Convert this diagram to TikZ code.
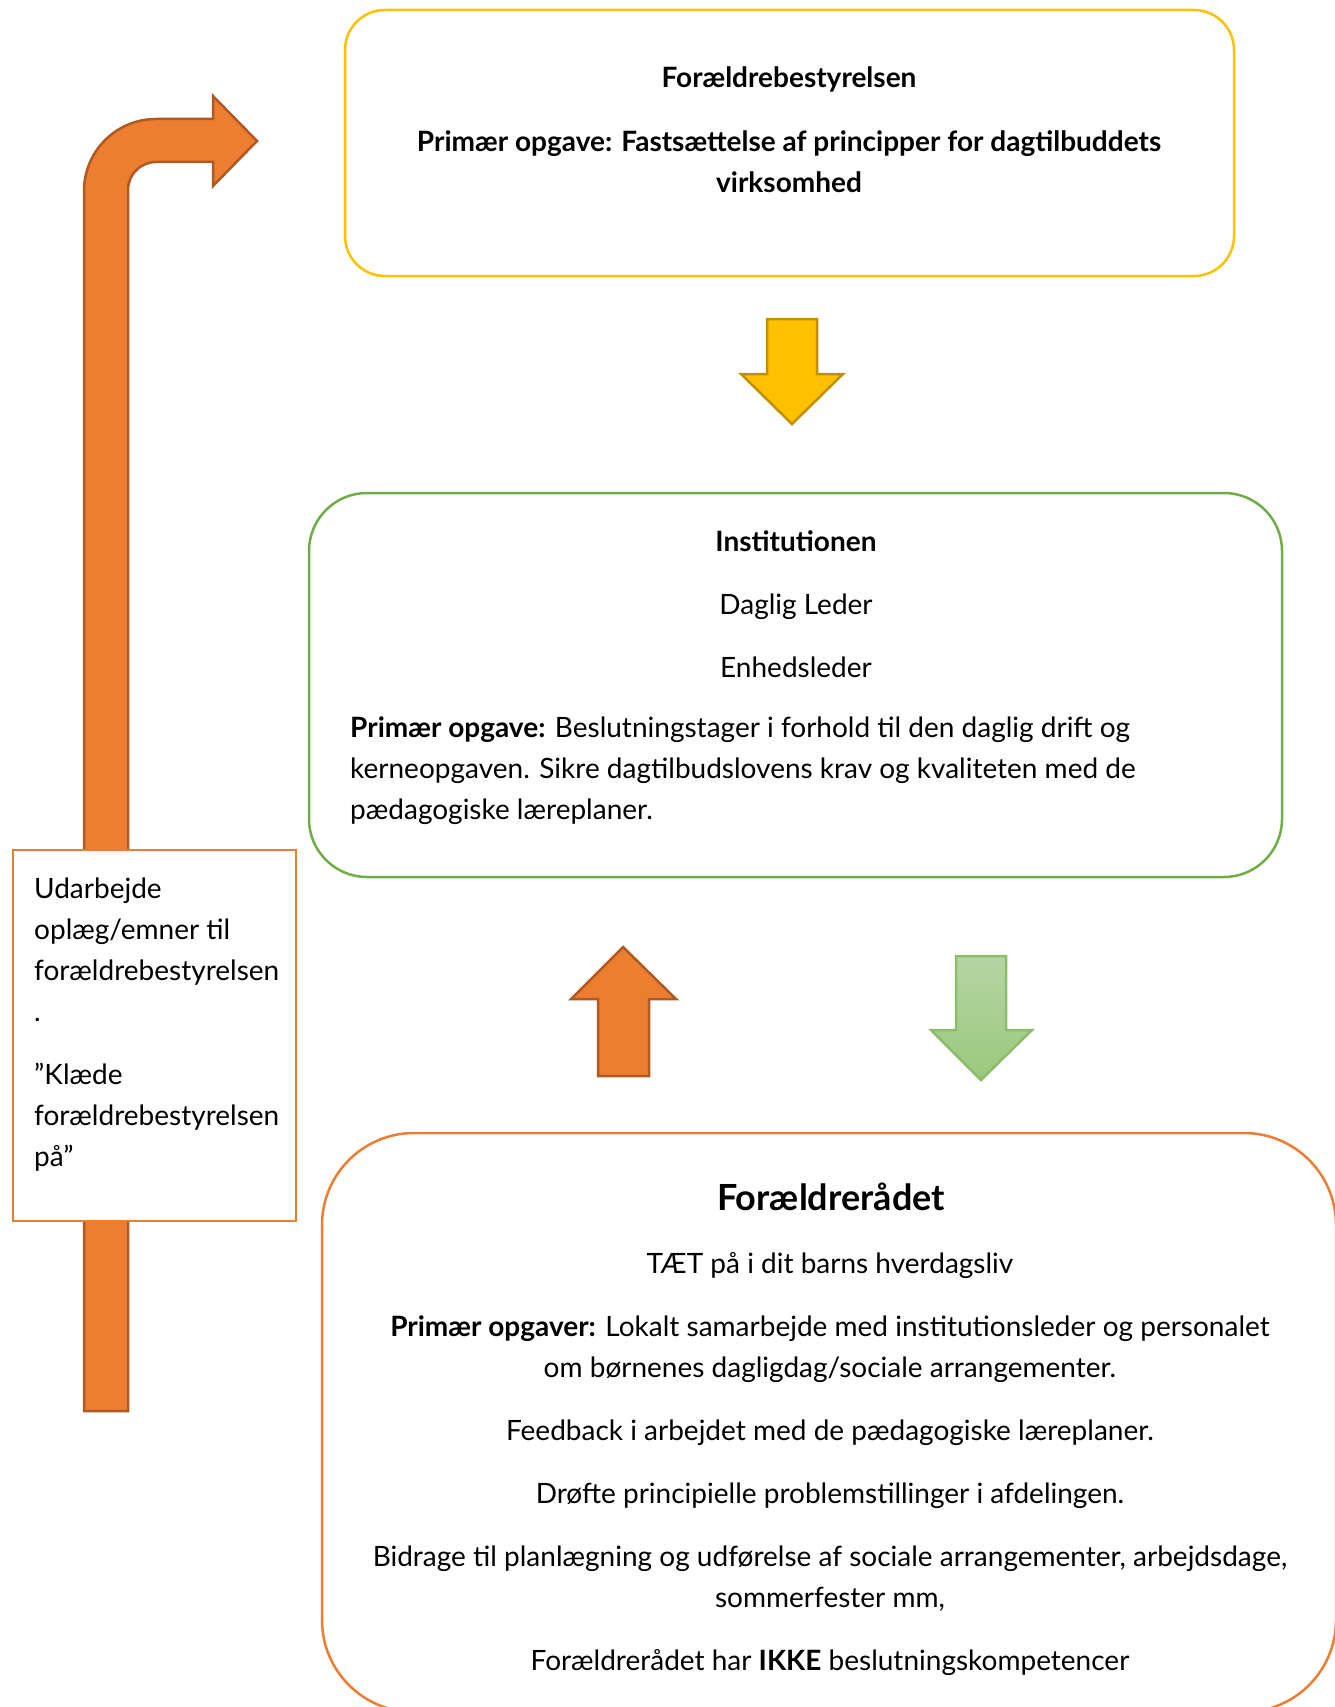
\documentclass[tikz,border=0pt]{standalone}
\usepackage{fontspec}
\setmainfont{Lato}
\definecolor{gul}{HTML}{FFC000}
\definecolor{gulmork}{HTML}{BF9000}
\definecolor{groen}{HTML}{70AD47}
\definecolor{groenlys}{HTML}{B5D5A3}
\definecolor{groenmork}{HTML}{9BC87D}
\definecolor{orangefyld}{HTML}{ED7D31}
\definecolor{orangemork}{HTML}{AE5A21}
\tikzset{
  boks/.style={draw, line width=2.5pt, rounded corners=#1, fill=white, inner sep=0pt},
  pil/.style={line width=2.5pt, line join=miter},
  tekst/.style={inner sep=0pt, font=\fontsize{28}{41}\selectfont},
}
\begin{document}
\begin{tikzpicture}[x=1pt, y=-1pt]
    \useasboundingbox (0, 0) rectangle (1334, 1707);
    % boksene
    \node[boks=40pt, draw=gul, minimum width=889pt, minimum height=266pt] (bestyrelse) at (789.5, 143) {};
    \node[boks=58pt, draw=groen, minimum width=973pt, minimum height=384pt] (institution) at (795.5, 685) {};
    \node[boks=92pt, draw=orangefyld, minimum width=1014pt, minimum height=579pt] (raadet) at (829, 1422.5) {};
    % pile mellem boksene
    \filldraw[pil, fill=gul, draw=gulmork] (767, 319) -- (817, 319) -- (817, 374) -- (843, 374) -- (792, 424) -- (741, 374) -- (767, 374) -- cycle;
    \filldraw[pil, fill=orangefyld, draw=orangemork] (598, 1076) -- (598, 999) -- (571, 999) -- (623, 947) -- (676, 999) -- (649, 999) -- (649, 1076) -- cycle;
    \draw[pil, top color=groenlys, bottom color=groenmork, draw=groen!80] (956, 956) -- (1006, 956) -- (1006, 1030) -- (1032, 1030) -- (981, 1080) -- (931, 1030) -- (956, 1030) -- cycle;
    % den bøjede pil
    \filldraw[pil, fill=orangefyld, draw=orangemork] (84, 1411) -- (84, 191) arc[start angle=180, end angle=270, radius=72] -- (213, 119) -- (213, 96) -- (257, 141) -- (213, 186) -- (213, 162) -- (156, 162) arc[start angle=270, end angle=180, radius=28] -- (128, 1411) -- cycle;
    \node[draw=orangefyld, line width=2.5pt, fill=white, minimum width=283pt, minimum height=371pt] (oplaeg) at (154.5, 1035.5) {};
    % tekster
    \node[tekst, align=center] (bestyrelsetekst) at (789, 130) {\bfseries Forældrebestyrelsen\\[23pt] \bfseries Primær opgave: Fastsættelse af principper for dagtilbuddets\\ \bfseries virksomhed};
    \node[tekst, align=center] (institutiontekst) at (796, 604) {\textbf{Institutionen}\\[22pt] Daglig Leder\\[22pt] Enhedsleder};
    \node[tekst, align=left, anchor=west] (opgavetekst) at (350, 771) {\textbf{Primær opgave:} Beslutningstager i forhold til den daglig drift og\\ kerneopgaven. Sikre dagtilbudslovens krav og kvaliteten med de\\ pædagogiske læreplaner.};
    \node[tekst, font=\fontsize{36}{44}\selectfont\bfseries] (raadettitel) at (831, 1197) {Forældrerådet};
    \node[tekst, align=center] (raadettekst) at (830, 1464) {TÆT på i dit barns hverdagsliv\\[22pt] \textbf{Primær opgaver:} Lokalt samarbejde med institutionsleder og personalet\\ om børnenes dagligdag/sociale arrangementer.\\[22pt] Feedback i arbejdet med de pædagogiske læreplaner.\\[22pt] Drøfte principielle problemstillinger i afdelingen.\\[22pt] Bidrage til planlægning og udførelse af sociale arrangementer, arbejdsdage,\\ sommerfester mm,\\[22pt] Forældrerådet har \textbf{IKKE} beslutningskompetencer};
    \node[tekst, align=left, anchor=west] (oplaegtekst) at (34, 1025) {Udarbejde\\ oplæg/emner til\\ forældrebestyrelsen\\ .\\[22pt] ”Klæde\\ forældrebestyrelsen\\ på”};
\end{tikzpicture}
\end{document}
